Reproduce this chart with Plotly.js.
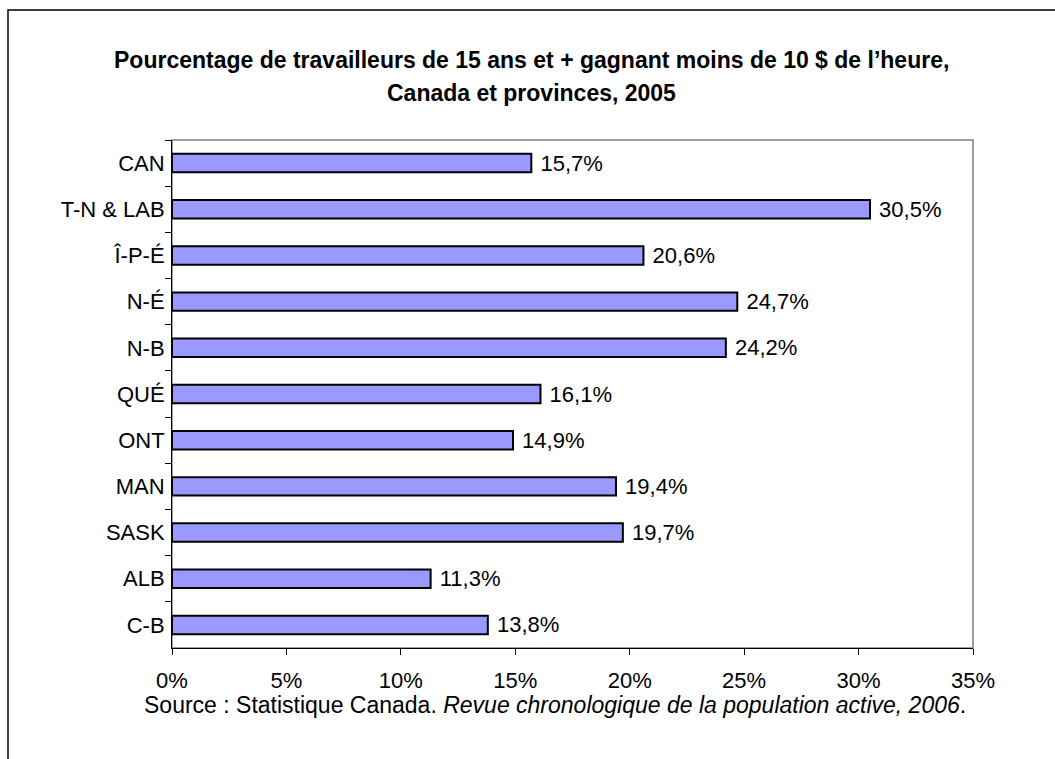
<!DOCTYPE html>
<html><head><meta charset="utf-8">
<script src="https://cdn.plot.ly/plotly-3.0.1.min.js"></script>
<style>body{margin:0;background:#fff}#chart{width:1055px;height:759px}</style>
</head><body><div id="chart"></div>
<script>
const categories = ["CAN","T-N & LAB","Î-P-É","N-É","N-B","QUÉ","ONT","MAN","SASK","ALB","C-B"];
const values = [15.7,30.5,20.6,24.7,24.2,16.1,14.9,19.4,19.7,11.3,13.8];
const labels = values.map(v => '\u00a0' + v.toFixed(1).replace('.', ',') + '%');
const xTicks = [0,5,10,15,20,25,30,35];
const xTickText = xTicks.map(v => v + '%');
const titleLine1 = "Pourcentage de travailleurs de 15 ans et + gagnant moins de 10 $ de l’heure,";
const titleLine2 = "Canada et provinces, 2005";

const L=172, R=973, T=140, B=648, W=1055, H=759;
const px = x => (x-L)/(R-L);
const py = y => (B-y)/(B-T);
const font = "Liberation Sans, Arial, sans-serif";
const fs = 22;

const trace = {
  type:'bar', orientation:'h', y:categories, x:values,
  marker:{color:'#9999FF', line:{color:'#000', width:2}},
  text:labels, textposition:'outside', cliponaxis:false, constraintext:'none',
  textfont:{family:font, size:fs, color:'#000'}, hoverinfo:'none'
};
const layout = {
  width:W, height:H, margin:{l:L, r:W-R, t:T, b:H-B},
  paper_bgcolor:'#fff', plot_bgcolor:'#fff', showlegend:false,
  font:{family:font, size:fs, color:'#000'},
  bargap:0.6,
  xaxis:{range:[0,35], tickvals:xTicks, ticktext:xTickText, showgrid:false, zeroline:false,
    showline:true, linecolor:'#000', linewidth:1, ticks:'outside', ticklen:6, tickcolor:'#000',
    ticklabelstandoff:7, tickfont:{family:font, size:fs}},
  yaxis:{autorange:'reversed', type:'category', showgrid:false, zeroline:false,
    showline:true, linecolor:'#000', linewidth:1, ticks:'outside', ticklen:6, tickcolor:'#000',
    tickson:'boundaries', ticklabelstandoff:2, tickfont:{family:font, size:fs}},
  shapes:[
    {type:'rect', xref:'paper', yref:'paper', x0:0, x1:1, y0:0, y1:1, line:{color:'#808080', width:1.5}, layer:'below'},
    {type:'rect', xref:'paper', yref:'paper', x0:px(8), x1:px(1070), y0:py(10), y1:py(780), line:{color:'#000', width:1.5}}
  ],
  annotations:[
    {xref:'paper', yref:'paper', x:px(531), y:py(60), text:'<b>'+titleLine1+'</b>', showarrow:false, xanchor:'center', yanchor:'middle', font:{family:font, size:23}},
    {xref:'paper', yref:'paper', x:px(531), y:py(93), text:'<b>'+titleLine2+'</b>', showarrow:false, xanchor:'center', yanchor:'middle', font:{family:font, size:23}},
    {xref:'paper', yref:'paper', x:px(555), y:py(705), text:'Source : Statistique Canada. <i>Revue chronologique de la population active, 2006</i>.', showarrow:false, xanchor:'center', yanchor:'middle', font:{family:font, size:23}}
  ]
};
Plotly.newPlot('chart', [trace], layout, {displayModeBar:false, staticPlot:true});
</script></body></html>
